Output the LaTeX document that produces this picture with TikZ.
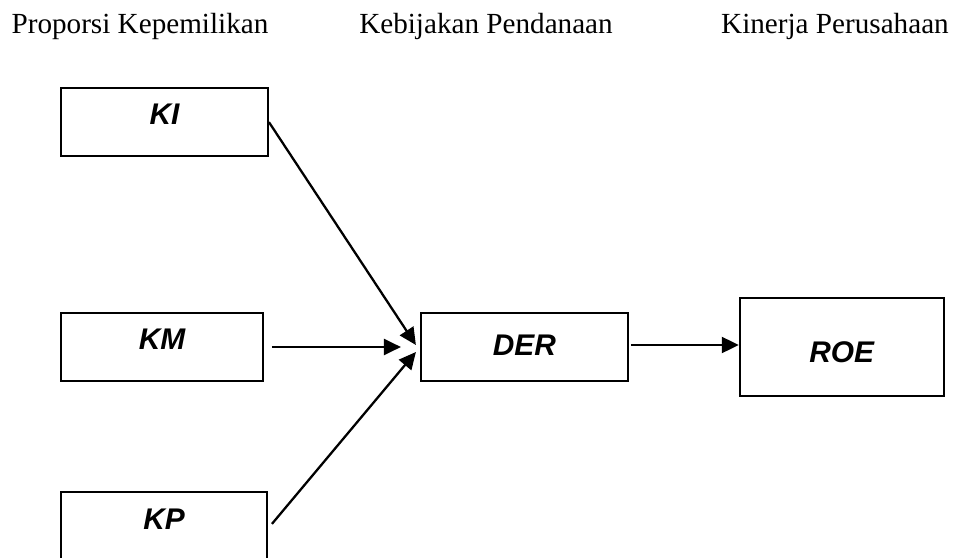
\documentclass[tikz,border=0pt]{standalone}
\usepackage{fontspec}
\setmainfont{Liberation Serif}
\newfontfamily\boxfont{Liberation Sans}
\usetikzlibrary{
    arrows.meta,
    positioning
}
\tikzset{
    every picture/.style = {
        > = {Triangle[length=0.34cm, width=0.32cm]}
    },
    blok/.style = {
        draw,
        line width = 1.1pt,
        inner sep = 0pt,
        minimum width = 4.1cm,
        minimum height = 1.36cm
    },
    tag/.style = {
        inner sep = 0pt,
        font = \boxfont\bfseries\itshape\fontsize{17}{19}\selectfont
    },
    judul/.style = {
        inner sep = 0pt,
        anchor = base,
        font = \fontsize{16.6}{19}\selectfont
    },
    panah/.style = {->, line width = 1.3pt}
}

\begin{document}
\begin{tikzpicture}[x = 0.02cm, y = -0.02cm]
    \clip (0,0) rectangle (954,558);

    % judul kolom
    \node[judul] (h1) at (140,33) {Proporsi Kepemilikan};
    \node[judul] (h2) at (486,33) {Kebijakan Pendanaan};
    \node[judul] (h3) at (835,33) {Kinerja Perusahaan};

    % kotak variabel
    \node[blok, minimum width = 4.04cm] (KM) at (162,347) {};
    \node[blok, minimum width = 4.14cm] (KI) [above = 3.1cm of KM.north west, anchor = south west] {};
    \node[blok, minimum width = 4.12cm, minimum height = 2cm] (KP) [below = 2.18cm of KM.south west, anchor = north west] {};
    \node[blok, minimum width = 4.14cm] (DER) [right = 3.12cm of KM] {};
    \node[blok, minimum width = 4.08cm, minimum height = 1.96cm] (ROE) [right = 2.2cm of DER] {};

    \node[tag] (KI-t) at ([shift={(0,-8)}]KI) {KI};
    \node[tag] (KM-t) at ([shift={(0,-8)}]KM) {KM};
    \node[tag] (KP-t) at ([shift={(0,28)}]KP.north) {KP};
    \node[tag] (DER-t) at ([shift={(0,-2)}]DER) {DER};
    \node[tag] (ROE-t) at ([shift={(0,5)}]ROE) {ROE};

    % panah
    \draw[panah] (KI.east) -- ([shift={(-4,-2)}]DER.west);
    \draw[panah] ([xshift=0.16cm]KM.east) -- ([xshift=-0.38cm]DER.west);
    \draw[panah] ([shift={(4,-18)}]KP.east) -- ([shift={(-4,5)}]DER.west);
    \draw[panah] ([shift={(2,-2)}]DER.east) -- ([shift={(0,-2)}]ROE.west);
\end{tikzpicture}
\end{document}
